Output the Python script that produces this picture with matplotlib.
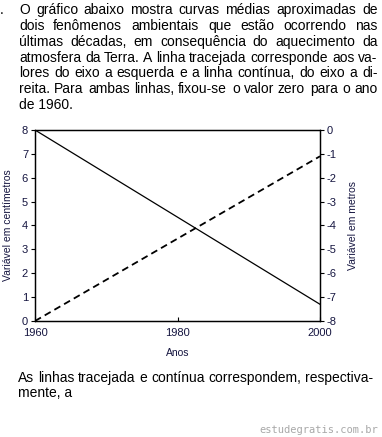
import matplotlib
matplotlib.use("Agg")
import matplotlib.pyplot as plt
from matplotlib.transforms import IdentityTransform

plt.rcParams['font.family'] = ['Liberation Sans', 'DejaVu Sans']
plt.rcParams['axes.unicode_minus'] = False

# ---- data ----
years = [1960, 2000]
dashed_cm = [0, 6.9]        # left axis (centimetros)
solid_m = [0, -7.3]         # right axis (metros)
xticks = [1960, 1980, 2000]
left_ticks = [0, 1, 2, 3, 4, 5, 6, 7, 8]
right_ticks = [-8, -7, -6, -5, -4, -3, -2, -1, 0]

para1 = [
    "O gráfico abaixo mostra curvas médias aproximadas de",
    "dois fenômenos ambientais que estão ocorrendo nas",
    "últimas décadas, em consequência do aquecimento da",
    "atmosfera da Terra. A linha tracejada corresponde aos va-",
    "lores do eixo a esquerda e a linha contínua, do eixo a di-",
    "reita. Para ambas linhas, fixou-se o valor zero para o ano",
    "de 1960.",
]
para2 = [
    "As linhas tracejada e contínua correspondem, respectiva-",
    "mente, a",
]

W, H = 382, 437
fig = plt.figure(figsize=(W / 100, H / 100), dpi=100)
fig.patch.set_facecolor('white')

axcol = '#151540'
ax = fig.add_axes([35 / W, 1 - 321 / H, (320 - 35) / W, (321 - 130) / H])
ax.plot(years, dashed_cm, color='black', lw=1.3, linestyle=(0, (3.8, 2.4)))
ax.set_xlim(1960, 2000)
ax.set_ylim(0, 8)
ax.set_xticks(xticks)
ax.set_yticks(left_ticks)
ax.tick_params(axis='y', direction='out', length=3, width=0.8, labelsize=8, labelcolor=axcol, pad=2)
ax.tick_params(axis='x', direction='in', length=3, width=0.8, labelsize=8, labelcolor=axcol, pad=5)
ax.set_xlabel("Anos", fontsize=7.5, color=axcol, labelpad=7)
ax.set_ylabel("Variável em centímetros", fontsize=7.5, color=axcol, labelpad=6)
for s in ax.spines.values():
    s.set_linewidth(0.9)

ax2 = ax.twinx()
ax2.plot(years, solid_m, color='black', lw=0.9)
ax2.set_ylim(-8, 0)
ax2.set_yticks(right_ticks)
ax2.tick_params(axis='y', direction='out', length=3, width=0.8, labelsize=8, labelcolor=axcol, pad=2)
ax2.set_ylabel("Variável em metros", fontsize=7.5, color=axcol, labelpad=8)
for s in ax2.spines.values():
    s.set_linewidth(0.9)

renderer = fig.canvas.get_renderer()
pix = IdentityTransform()

# choose font size so the tightest line fits naturally
probe = fig.text(0, 0, para1[3], fontsize=10)
natural = probe.get_window_extent(renderer).width
probe.remove()
FS = 10 * 357 / natural


def justified(lines, x0, x1, y0, dy, fs, justify_last=False):
    for i, line in enumerate(lines):
        ypix = round(H - (y0 + i * dy))
        words = line.split(" ")
        last = (i == len(lines) - 1) and not justify_last
        if last or len(words) == 1:
            fig.text(x0, ypix, line, fontsize=fs, color='black', va='baseline', ha='left',
                     transform=pix)
            continue
        texts = [fig.text(0, ypix, w, fontsize=fs, color='black', va='baseline', ha='left',
                          transform=pix) for w in words]
        widths = [t.get_window_extent(renderer).width for t in texts]
        gap = ((x1 - x0) - sum(widths)) / (len(words) - 1)
        x = x0
        for t, w in zip(texts, widths):
            t.set_x(round(x))
            x += w + gap


justified(para1, 19, 377, 14.3, 15.8, FS)
fig.text(0, round(H - 14.3), ".", fontsize=FS, color='black', va='baseline', transform=pix)
justified(para2, 18, 373, 381.7, 15.8, FS)

fig.text(378 / W, 1 - 430 / H, "estudegratis.com.br", fontsize=7.5, color='#a8a8a8',
         ha='right', va='center', family='DejaVu Sans Mono')

fig.savefig("out.png", dpi=100)
